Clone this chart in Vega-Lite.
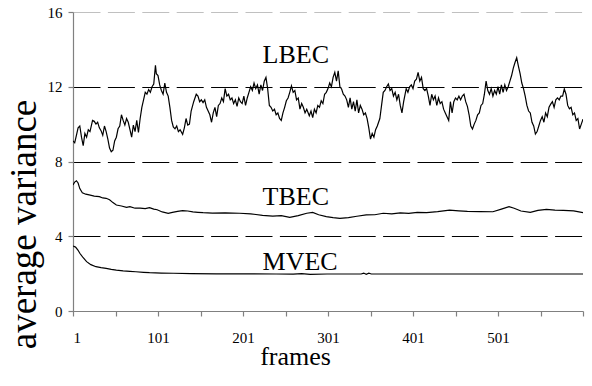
{
  "$schema": "https://vega.github.io/schema/vega-lite/v6.json",
  "width": 510,
  "height": 299,
  "autosize": {"type": "none"},
  "padding": {"left": 73, "top": 12, "right": 9, "bottom": 75},
  "background": "white",
  "config": {
    "view": {"stroke": null},
    "font": "Liberation Serif",
    "style": {
      "guide-label": {"font": "Liberation Serif", "fill": "#000"},
      "guide-title": {"font": "Liberation Serif", "fill": "#000", "fontWeight": "normal"}
    },
    "axis": {"labelFont": "Liberation Serif", "titleFont": "Liberation Serif", "labelColor": "#000", "titleColor": "#000", "titleFontWeight": "normal", "domainColor": "#808080", "tickColor": "#808080", "domainWidth": 1.2, "tickWidth": 1.2}
  },
  "datasets": {
    "lines": [
      {"series":"LBEC","frame":1,"value":9.1},{"series":"LBEC","frame":3,"value":9.0},{"series":"LBEC","frame":5,"value":9.4},{"series":"LBEC","frame":7,"value":9.8},{"series":"LBEC","frame":9,"value":9.9},{"series":"LBEC","frame":11,"value":9.3},{"series":"LBEC","frame":13,"value":8.85},{"series":"LBEC","frame":15,"value":9.5},{"series":"LBEC","frame":17,"value":9.3},{"series":"LBEC","frame":19,"value":9.7},{"series":"LBEC","frame":21,"value":9.6},{"series":"LBEC","frame":24,"value":10.2},{"series":"LBEC","frame":26,"value":10.15},{"series":"LBEC","frame":28,"value":10.0},{"series":"LBEC","frame":30,"value":10.1},{"series":"LBEC","frame":32,"value":9.8},{"series":"LBEC","frame":34,"value":9.65},{"series":"LBEC","frame":36,"value":9.4},{"series":"LBEC","frame":38,"value":9.9},{"series":"LBEC","frame":40,"value":9.6},{"series":"LBEC","frame":42,"value":9.2},{"series":"LBEC","frame":44,"value":8.72},{"series":"LBEC","frame":46,"value":8.52},{"series":"LBEC","frame":48,"value":8.6},{"series":"LBEC","frame":50,"value":9.1},{"series":"LBEC","frame":52,"value":9.3},{"series":"LBEC","frame":54,"value":9.75},{"series":"LBEC","frame":56,"value":9.9},{"series":"LBEC","frame":58,"value":10.5},{"series":"LBEC","frame":60,"value":10.2},{"series":"LBEC","frame":62,"value":9.95},{"series":"LBEC","frame":64,"value":10.3},{"series":"LBEC","frame":66,"value":10.1},{"series":"LBEC","frame":68,"value":9.7},{"series":"LBEC","frame":70,"value":9.3},{"series":"LBEC","frame":72,"value":9.95},{"series":"LBEC","frame":74,"value":9.6},{"series":"LBEC","frame":76,"value":10.2},{"series":"LBEC","frame":78,"value":9.55},{"series":"LBEC","frame":80,"value":10.3},{"series":"LBEC","frame":82,"value":10.9},{"series":"LBEC","frame":84,"value":11.3},{"series":"LBEC","frame":86,"value":11.7},{"series":"LBEC","frame":88,"value":11.6},{"series":"LBEC","frame":90,"value":11.85},{"series":"LBEC","frame":92,"value":11.7},{"series":"LBEC","frame":94,"value":12.0},{"series":"LBEC","frame":96,"value":12.15},{"series":"LBEC","frame":98,"value":13.15},{"series":"LBEC","frame":99,"value":12.7},{"series":"LBEC","frame":101,"value":12.6},{"series":"LBEC","frame":103,"value":12.1},{"series":"LBEC","frame":105,"value":11.8},{"series":"LBEC","frame":107,"value":11.6},{"series":"LBEC","frame":109,"value":12.2},{"series":"LBEC","frame":111,"value":11.7},{"series":"LBEC","frame":113,"value":11.5},{"series":"LBEC","frame":115,"value":10.9},{"series":"LBEC","frame":117,"value":10.2},{"series":"LBEC","frame":119,"value":9.85},{"series":"LBEC","frame":121,"value":9.75},{"series":"LBEC","frame":123,"value":9.9},{"series":"LBEC","frame":125,"value":9.6},{"series":"LBEC","frame":127,"value":9.7},{"series":"LBEC","frame":130,"value":9.45},{"series":"LBEC","frame":132,"value":9.8},{"series":"LBEC","frame":134,"value":10.3},{"series":"LBEC","frame":136,"value":9.95},{"series":"LBEC","frame":138,"value":10.0},{"series":"LBEC","frame":140,"value":10.7},{"series":"LBEC","frame":143,"value":11.2},{"series":"LBEC","frame":146,"value":11.6},{"series":"LBEC","frame":148,"value":11.5},{"series":"LBEC","frame":150,"value":11.2},{"series":"LBEC","frame":152,"value":11.3},{"series":"LBEC","frame":154,"value":11.15},{"series":"LBEC","frame":156,"value":11.3},{"series":"LBEC","frame":158,"value":10.9},{"series":"LBEC","frame":160,"value":10.7},{"series":"LBEC","frame":162,"value":10.5},{"series":"LBEC","frame":164,"value":10.1},{"series":"LBEC","frame":166,"value":10.6},{"series":"LBEC","frame":168,"value":10.9},{"series":"LBEC","frame":170,"value":10.4},{"series":"LBEC","frame":172,"value":11.0},{"series":"LBEC","frame":174,"value":11.1},{"series":"LBEC","frame":176,"value":11.4},{"series":"LBEC","frame":178,"value":11.2},{"series":"LBEC","frame":180,"value":11.9},{"series":"LBEC","frame":182,"value":11.5},{"series":"LBEC","frame":184,"value":11.6},{"series":"LBEC","frame":186,"value":11.3},{"series":"LBEC","frame":188,"value":11.4},{"series":"LBEC","frame":190,"value":11.1},{"series":"LBEC","frame":192,"value":11.3},{"series":"LBEC","frame":194,"value":10.95},{"series":"LBEC","frame":196,"value":11.4},{"series":"LBEC","frame":198,"value":11.2},{"series":"LBEC","frame":200,"value":11.1},{"series":"LBEC","frame":202,"value":11.5},{"series":"LBEC","frame":204,"value":11.0},{"series":"LBEC","frame":206,"value":11.4},{"series":"LBEC","frame":208,"value":11.7},{"series":"LBEC","frame":210,"value":12.0},{"series":"LBEC","frame":212,"value":11.8},{"series":"LBEC","frame":214,"value":12.2},{"series":"LBEC","frame":216,"value":11.9},{"series":"LBEC","frame":218,"value":12.1},{"series":"LBEC","frame":220,"value":11.6},{"series":"LBEC","frame":222,"value":12.1},{"series":"LBEC","frame":224,"value":11.8},{"series":"LBEC","frame":226,"value":12.3},{"series":"LBEC","frame":228,"value":12.5},{"series":"LBEC","frame":230,"value":11.9},{"series":"LBEC","frame":232,"value":11.0},{"series":"LBEC","frame":234,"value":10.9},{"series":"LBEC","frame":236,"value":10.7},{"series":"LBEC","frame":238,"value":10.8},{"series":"LBEC","frame":240,"value":10.5},{"series":"LBEC","frame":242,"value":10.6},{"series":"LBEC","frame":244,"value":10.3},{"series":"LBEC","frame":246,"value":10.2},{"series":"LBEC","frame":248,"value":10.6},{"series":"LBEC","frame":250,"value":10.9},{"series":"LBEC","frame":252,"value":11.25},{"series":"LBEC","frame":254,"value":11.4},{"series":"LBEC","frame":256,"value":11.7},{"series":"LBEC","frame":258,"value":12.05},{"series":"LBEC","frame":260,"value":11.7},{"series":"LBEC","frame":262,"value":11.8},{"series":"LBEC","frame":264,"value":11.3},{"series":"LBEC","frame":266,"value":11.4},{"series":"LBEC","frame":268,"value":10.8},{"series":"LBEC","frame":270,"value":11.1},{"series":"LBEC","frame":272,"value":10.9},{"series":"LBEC","frame":274,"value":10.6},{"series":"LBEC","frame":276,"value":10.8},{"series":"LBEC","frame":279,"value":10.45},{"series":"LBEC","frame":281,"value":10.7},{"series":"LBEC","frame":283,"value":10.35},{"series":"LBEC","frame":285,"value":10.8},{"series":"LBEC","frame":287,"value":10.6},{"series":"LBEC","frame":289,"value":11.0},{"series":"LBEC","frame":291,"value":10.9},{"series":"LBEC","frame":293,"value":11.25},{"series":"LBEC","frame":295,"value":11.1},{"series":"LBEC","frame":297,"value":11.6},{"series":"LBEC","frame":299,"value":11.7},{"series":"LBEC","frame":301,"value":11.9},{"series":"LBEC","frame":303,"value":12.2},{"series":"LBEC","frame":305,"value":12.0},{"series":"LBEC","frame":307,"value":12.5},{"series":"LBEC","frame":309,"value":12.77},{"series":"LBEC","frame":311,"value":12.3},{"series":"LBEC","frame":313,"value":12.85},{"series":"LBEC","frame":315,"value":12.0},{"series":"LBEC","frame":317,"value":11.88},{"series":"LBEC","frame":319,"value":11.6},{"series":"LBEC","frame":321,"value":11.5},{"series":"LBEC","frame":323,"value":11.3},{"series":"LBEC","frame":325,"value":10.9},{"series":"LBEC","frame":327,"value":11.4},{"series":"LBEC","frame":329,"value":10.8},{"series":"LBEC","frame":331,"value":11.2},{"series":"LBEC","frame":333,"value":10.7},{"series":"LBEC","frame":335,"value":11.3},{"series":"LBEC","frame":337,"value":10.6},{"series":"LBEC","frame":339,"value":11.0},{"series":"LBEC","frame":341,"value":10.8},{"series":"LBEC","frame":343,"value":10.5},{"series":"LBEC","frame":345,"value":10.6},{"series":"LBEC","frame":347,"value":10.3},{"series":"LBEC","frame":349,"value":9.8},{"series":"LBEC","frame":351,"value":9.2},{"series":"LBEC","frame":353,"value":9.5},{"series":"LBEC","frame":355,"value":9.3},{"series":"LBEC","frame":357,"value":9.7},{"series":"LBEC","frame":359,"value":9.9},{"series":"LBEC","frame":362,"value":10.3},{"series":"LBEC","frame":364,"value":11.0},{"series":"LBEC","frame":366,"value":11.7},{"series":"LBEC","frame":368,"value":11.8},{"series":"LBEC","frame":370,"value":12.0},{"series":"LBEC","frame":372,"value":12.15},{"series":"LBEC","frame":374,"value":11.8},{"series":"LBEC","frame":376,"value":11.9},{"series":"LBEC","frame":378,"value":11.5},{"series":"LBEC","frame":380,"value":11.7},{"series":"LBEC","frame":382,"value":11.3},{"series":"LBEC","frame":384,"value":11.6},{"series":"LBEC","frame":386,"value":11.0},{"series":"LBEC","frame":388,"value":10.6},{"series":"LBEC","frame":390,"value":11.2},{"series":"LBEC","frame":393,"value":11.9},{"series":"LBEC","frame":395,"value":11.7},{"series":"LBEC","frame":397,"value":12.0},{"series":"LBEC","frame":399,"value":12.1},{"series":"LBEC","frame":401,"value":11.9},{"series":"LBEC","frame":403,"value":12.3},{"series":"LBEC","frame":405,"value":12.4},{"series":"LBEC","frame":407,"value":12.77},{"series":"LBEC","frame":409,"value":12.3},{"series":"LBEC","frame":411,"value":12.5},{"series":"LBEC","frame":413,"value":11.9},{"series":"LBEC","frame":415,"value":11.8},{"series":"LBEC","frame":417,"value":11.9},{"series":"LBEC","frame":419,"value":11.5},{"series":"LBEC","frame":421,"value":11.0},{"series":"LBEC","frame":423,"value":11.6},{"series":"LBEC","frame":425,"value":11.3},{"series":"LBEC","frame":427,"value":11.5},{"series":"LBEC","frame":429,"value":11.0},{"series":"LBEC","frame":431,"value":11.4},{"series":"LBEC","frame":433,"value":11.1},{"series":"LBEC","frame":435,"value":11.2},{"series":"LBEC","frame":437,"value":10.8},{"series":"LBEC","frame":439,"value":10.6},{"series":"LBEC","frame":441,"value":10.4},{"series":"LBEC","frame":443,"value":10.2},{"series":"LBEC","frame":445,"value":11.2},{"series":"LBEC","frame":447,"value":10.6},{"series":"LBEC","frame":449,"value":11.2},{"series":"LBEC","frame":451,"value":11.4},{"series":"LBEC","frame":453,"value":11.3},{"series":"LBEC","frame":455,"value":11.5},{"series":"LBEC","frame":457,"value":11.3},{"series":"LBEC","frame":459,"value":11.5},{"series":"LBEC","frame":461,"value":11.6},{"series":"LBEC","frame":463,"value":11.2},{"series":"LBEC","frame":465,"value":10.95},{"series":"LBEC","frame":467,"value":10.5},{"series":"LBEC","frame":469,"value":9.9},{"series":"LBEC","frame":471,"value":9.74},{"series":"LBEC","frame":473,"value":10.0},{"series":"LBEC","frame":475,"value":10.2},{"series":"LBEC","frame":477,"value":10.5},{"series":"LBEC","frame":479,"value":10.6},{"series":"LBEC","frame":481,"value":11.0},{"series":"LBEC","frame":483,"value":11.1},{"series":"LBEC","frame":485,"value":11.6},{"series":"LBEC","frame":487,"value":12.3},{"series":"LBEC","frame":489,"value":11.8},{"series":"LBEC","frame":491,"value":11.6},{"series":"LBEC","frame":493,"value":11.9},{"series":"LBEC","frame":495,"value":11.5},{"series":"LBEC","frame":497,"value":11.8},{"series":"LBEC","frame":499,"value":11.6},{"series":"LBEC","frame":501,"value":12.0},{"series":"LBEC","frame":503,"value":11.6},{"series":"LBEC","frame":505,"value":12.1},{"series":"LBEC","frame":507,"value":11.7},{"series":"LBEC","frame":509,"value":12.1},{"series":"LBEC","frame":511,"value":11.8},{"series":"LBEC","frame":513,"value":12.0},{"series":"LBEC","frame":515,"value":12.3},{"series":"LBEC","frame":517,"value":12.6},{"series":"LBEC","frame":519,"value":13.0},{"series":"LBEC","frame":521,"value":13.3},{"series":"LBEC","frame":523,"value":13.55},{"series":"LBEC","frame":525,"value":13.1},{"series":"LBEC","frame":527,"value":12.7},{"series":"LBEC","frame":529,"value":12.2},{"series":"LBEC","frame":531,"value":11.9},{"series":"LBEC","frame":533,"value":11.5},{"series":"LBEC","frame":535,"value":11.0},{"series":"LBEC","frame":537,"value":10.7},{"series":"LBEC","frame":539,"value":10.6},{"series":"LBEC","frame":541,"value":10.1},{"series":"LBEC","frame":543,"value":9.9},{"series":"LBEC","frame":545,"value":9.47},{"series":"LBEC","frame":547,"value":9.6},{"series":"LBEC","frame":549,"value":9.9},{"series":"LBEC","frame":551,"value":10.2},{"series":"LBEC","frame":553,"value":10.4},{"series":"LBEC","frame":555,"value":10.1},{"series":"LBEC","frame":557,"value":10.6},{"series":"LBEC","frame":559,"value":10.4},{"series":"LBEC","frame":561,"value":10.9},{"series":"LBEC","frame":563,"value":11.07},{"series":"LBEC","frame":565,"value":11.2},{"series":"LBEC","frame":567,"value":10.9},{"series":"LBEC","frame":569,"value":11.3},{"series":"LBEC","frame":571,"value":11.4},{"series":"LBEC","frame":573,"value":11.3},{"series":"LBEC","frame":575,"value":11.5},{"series":"LBEC","frame":577,"value":11.5},{"series":"LBEC","frame":579,"value":11.88},{"series":"LBEC","frame":581,"value":11.6},{"series":"LBEC","frame":583,"value":11.0},{"series":"LBEC","frame":585,"value":10.82},{"series":"LBEC","frame":587,"value":10.9},{"series":"LBEC","frame":589,"value":10.5},{"series":"LBEC","frame":591,"value":10.6},{"series":"LBEC","frame":593,"value":10.2},{"series":"LBEC","frame":595,"value":10.3},{"series":"LBEC","frame":597,"value":9.74},{"series":"LBEC","frame":599,"value":10.0},{"series":"LBEC","frame":601,"value":10.27},
      {"series":"TBEC","frame":1,"value":6.74},{"series":"TBEC","frame":3,"value":6.9},{"series":"TBEC","frame":5,"value":6.97},{"series":"TBEC","frame":7,"value":6.85},{"series":"TBEC","frame":9,"value":6.55},{"series":"TBEC","frame":12,"value":6.33},{"series":"TBEC","frame":16,"value":6.25},{"series":"TBEC","frame":20,"value":6.21},{"series":"TBEC","frame":26,"value":6.15},{"series":"TBEC","frame":32,"value":6.12},{"series":"TBEC","frame":36,"value":6.05},{"series":"TBEC","frame":40,"value":6.03},{"series":"TBEC","frame":44,"value":5.95},{"series":"TBEC","frame":48,"value":5.8},{"series":"TBEC","frame":52,"value":5.67},{"series":"TBEC","frame":58,"value":5.62},{"series":"TBEC","frame":64,"value":5.55},{"series":"TBEC","frame":68,"value":5.58},{"series":"TBEC","frame":74,"value":5.5},{"series":"TBEC","frame":80,"value":5.5},{"series":"TBEC","frame":86,"value":5.48},{"series":"TBEC","frame":91,"value":5.53},{"series":"TBEC","frame":96,"value":5.45},{"series":"TBEC","frame":100,"value":5.42},{"series":"TBEC","frame":106,"value":5.3},{"series":"TBEC","frame":113,"value":5.23},{"series":"TBEC","frame":118,"value":5.28},{"series":"TBEC","frame":124,"value":5.33},{"series":"TBEC","frame":130,"value":5.37},{"series":"TBEC","frame":136,"value":5.35},{"series":"TBEC","frame":142,"value":5.3},{"series":"TBEC","frame":148,"value":5.28},{"series":"TBEC","frame":154,"value":5.26},{"series":"TBEC","frame":165,"value":5.24},{"series":"TBEC","frame":180,"value":5.25},{"series":"TBEC","frame":197,"value":5.23},{"series":"TBEC","frame":210,"value":5.2},{"series":"TBEC","frame":224,"value":5.12},{"series":"TBEC","frame":236,"value":5.08},{"series":"TBEC","frame":246,"value":5.1},{"series":"TBEC","frame":256,"value":5.01},{"series":"TBEC","frame":266,"value":5.1},{"series":"TBEC","frame":276,"value":5.23},{"series":"TBEC","frame":283,"value":5.28},{"series":"TBEC","frame":290,"value":5.15},{"series":"TBEC","frame":299,"value":5.05},{"series":"TBEC","frame":307,"value":5.0},{"series":"TBEC","frame":315,"value":4.96},{"series":"TBEC","frame":325,"value":5.0},{"series":"TBEC","frame":335,"value":5.07},{"series":"TBEC","frame":346,"value":5.14},{"series":"TBEC","frame":356,"value":5.15},{"series":"TBEC","frame":366,"value":5.23},{"series":"TBEC","frame":376,"value":5.2},{"series":"TBEC","frame":386,"value":5.25},{"series":"TBEC","frame":396,"value":5.22},{"series":"TBEC","frame":406,"value":5.28},{"series":"TBEC","frame":417,"value":5.26},{"series":"TBEC","frame":430,"value":5.32},{"series":"TBEC","frame":444,"value":5.4},{"series":"TBEC","frame":455,"value":5.36},{"series":"TBEC","frame":465,"value":5.33},{"series":"TBEC","frame":480,"value":5.32},{"series":"TBEC","frame":495,"value":5.31},{"series":"TBEC","frame":505,"value":5.45},{"series":"TBEC","frame":514,"value":5.58},{"series":"TBEC","frame":520,"value":5.5},{"series":"TBEC","frame":528,"value":5.35},{"series":"TBEC","frame":539,"value":5.28},{"series":"TBEC","frame":548,"value":5.38},{"series":"TBEC","frame":558,"value":5.44},{"series":"TBEC","frame":568,"value":5.4},{"series":"TBEC","frame":578,"value":5.38},{"series":"TBEC","frame":590,"value":5.36},{"series":"TBEC","frame":601,"value":5.26},
      {"series":"MVEC","frame":1,"value":3.48},{"series":"MVEC","frame":4,"value":3.42},{"series":"MVEC","frame":7,"value":3.25},{"series":"MVEC","frame":9,"value":3.09},{"series":"MVEC","frame":13,"value":2.85},{"series":"MVEC","frame":17,"value":2.64},{"series":"MVEC","frame":22,"value":2.48},{"series":"MVEC","frame":28,"value":2.37},{"series":"MVEC","frame":34,"value":2.32},{"series":"MVEC","frame":40,"value":2.28},{"series":"MVEC","frame":46,"value":2.23},{"series":"MVEC","frame":52,"value":2.19},{"series":"MVEC","frame":60,"value":2.15},{"series":"MVEC","frame":68,"value":2.12},{"series":"MVEC","frame":75,"value":2.1},{"series":"MVEC","frame":84,"value":2.07},{"series":"MVEC","frame":91,"value":2.05},{"series":"MVEC","frame":105,"value":2.03},{"series":"MVEC","frame":119,"value":2.02},{"series":"MVEC","frame":140,"value":2.0},{"series":"MVEC","frame":170,"value":1.99},{"series":"MVEC","frame":200,"value":1.99},{"series":"MVEC","frame":240,"value":1.98},{"series":"MVEC","frame":260,"value":1.97},{"series":"MVEC","frame":270,"value":2.0},{"series":"MVEC","frame":280,"value":1.96},{"series":"MVEC","frame":300,"value":1.98},{"series":"MVEC","frame":340,"value":1.98},{"series":"MVEC","frame":343,"value":2.03},{"series":"MVEC","frame":346,"value":1.96},{"series":"MVEC","frame":349,"value":2.02},{"series":"MVEC","frame":352,"value":1.98},{"series":"MVEC","frame":380,"value":1.98},{"series":"MVEC","frame":420,"value":1.98},{"series":"MVEC","frame":460,"value":1.98},{"series":"MVEC","frame":500,"value":1.98},{"series":"MVEC","frame":550,"value":1.98},{"series":"MVEC","frame":601,"value":1.98}
    ],
    "labels": [
      {"label":"LBEC","frame":224,"value":13.27},
      {"label":"TBEC","frame":224,"value":5.67},
      {"label":"MVEC","frame":224,"value":2.19}
    ]
  },
  "layer": [
    {
      "data": {"name": "lines"},
      "mark": {"type": "line", "color": "#000", "strokeWidth": 1.2, "clip": true},
      "encoding": {
        "x": {
          "field": "frame", "type": "quantitative",
          "scale": {"domain": [1, 601], "nice": false, "zero": false},
          "axis": {
            "values": [1,51,101,151,201,251,301,351,401,451,501,551,601],
            "labelExpr": "(datum.value - 1) % 100 == 0 && datum.value < 600 ? datum.value : ''",
            "grid": false, "tickSize": 5, "labelPadding": 14, "labelFontSize": 15,
            "labelFont": "Liberation Serif", "titleFont": "Liberation Serif", "titleFontWeight": "normal",
            "title": "frames", "titleFontSize": 26, "titleX": 222, "titleY": 53,
            "titleAlign": "center", "titleBaseline": "alphabetic", "titleAnchor": null
          }
        },
        "y": {
          "field": "value", "type": "quantitative",
          "scale": {"domain": [0, 16], "nice": false},
          "axis": {
            "values": [0,4,8,12,16],
            "grid": true,
            "gridColor": {"condition": {"test": "datum.value == 16", "value": "#c0c0c0"}, "value": "#000"},
            "gridDash": [27, 7.4], "gridWidth": 1,
            "tickSize": 5, "labelPadding": 6, "labelFontSize": 15,
            "labelFont": "Liberation Serif", "titleFont": "Liberation Serif", "titleFontWeight": "normal",
            "title": "average variance", "titleFontSize": 37, "titleAngle": -90,
            "titleX": -49, "titleY": 212, "titleAlign": "center", "titleBaseline": "middle", "titleAnchor": null
          }
        },
        "detail": {"field": "series"}
      }
    },
    {
      "data": {"name": "labels"},
      "mark": {"type": "text", "font": "Liberation Serif", "fontSize": 26, "align": "left", "baseline": "alphabetic", "color": "#000"},
      "encoding": {
        "x": {"field": "frame", "type": "quantitative"},
        "y": {"field": "value", "type": "quantitative"},
        "text": {"field": "label"}
      }
    }
  ]
}
